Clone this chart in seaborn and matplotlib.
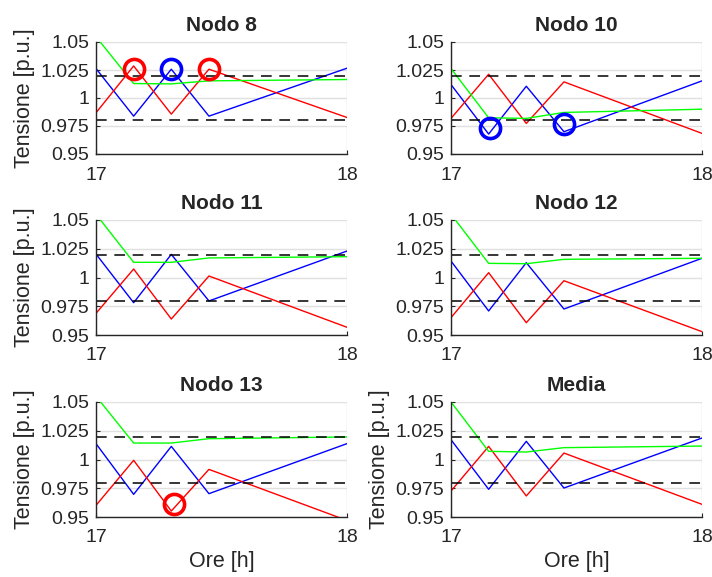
import matplotlib
matplotlib.use("Agg")
import matplotlib.pyplot as plt
import pandas as pd
import seaborn as sns

# hours on the x axis
ore = [17.0, 17.15, 17.30, 17.45, 18.0]

titles = ["Nodo 8", "Nodo 10", "Nodo 11", "Nodo 12", "Nodo 13", "Media"]

blue = [
    [1.0263, 0.9838, 1.0257, 0.9838, 1.0266],
    [1.0120, 0.9678, 1.0105, 0.9699, 1.0153],
    [1.0204, 0.9781, 1.0201, 0.9796, 1.0230],
    [1.0143, 0.9709, 1.0129, 0.9726, 1.0167],
    [1.0138, 0.9697, 1.0114, 0.9703, 1.0138],
    [1.0172, 0.9741, 1.0158, 0.9752, 1.0187],
]
red = [
    [0.9868, 1.0286, 0.9856, 1.0257, 0.9826],
    [0.9818, 1.0212, 0.9773, 1.0144, 0.9684],
    [0.9688, 1.0074, 0.9639, 1.0013, 0.9567],
    [0.9651, 1.0042, 0.9607, 0.9972, 0.9529],
    [0.9601, 0.9993, 0.9552, 0.9914, 0.9470],
    [0.9726, 1.0114, 0.9683, 1.0056, 0.9610],
]
green = [
    [1.0547, 1.0129, 1.0126, 1.0153, 1.0165],
    [1.0263, 0.9823, 0.9818, 0.9871, 0.9900],
    [1.0550, 1.0132, 1.0132, 1.0170, 1.0181],
    [1.0550, 1.0123, 1.0120, 1.0158, 1.0167],
    [1.0550, 1.0143, 1.0143, 1.0181, 1.0196],
    [1.0500, 1.0071, 1.0065, 1.0103, 1.0117],
]

# limits
v_max = 1.02
v_min = 0.98

# highlighted points: (panel, hour, value, colour)
circle_panel = [0, 0, 0, 1, 1, 4]
circle_x = [17.15, 17.30, 17.45, 17.155, 17.45, 17.31]
circle_y = [1.026, 1.026, 1.026, 0.973, 0.977, 0.961]
circle_col = ["red", "blue", "red", "blue", "blue", "red"]

yticks = [0.95, 0.975, 1.0, 1.025, 1.05]
ytick_labels = ["0.95", "0.975", "1", "1.025", "1.05"]

sns.set_theme(style="ticks")
plt.rcParams["font.family"] = ["Liberation Sans", "DejaVu Sans"]
plt.rcParams["xtick.direction"] = "in"
plt.rcParams["ytick.direction"] = "in"

fig = plt.figure(figsize=(7.12, 5.77), dpi=100)
W, H = 712, 577
lefts = [96, 451]
rows = [(42, 154), (220, 335), (402, 517)]

for i, title in enumerate(titles):
    r, c = divmod(i, 2)
    top, bot = rows[r]
    ax = fig.add_axes([lefts[c] / W, 1 - bot / H, 251 / W, (bot - top) / H])
    df = pd.DataFrame({"ore": ore, "blu": blue[i], "rosso": red[i], "verde": green[i]})
    sns.lineplot(data=df, x="ore", y="blu", color="blue", lw=1.0, ax=ax)
    sns.lineplot(data=df, x="ore", y="rosso", color="red", lw=1.0, ax=ax)
    sns.lineplot(data=df, x="ore", y="verde", color="#00ff00", lw=1.0, ax=ax)
    ax.axhline(v_max, color="black", ls=(0, (7, 5)), lw=1.1)
    ax.axhline(v_min, color="black", ls=(0, (7, 5)), lw=1.1)
    for p, cx, cy, cc in zip(circle_panel, circle_x, circle_y, circle_col):
        if p == i:
            ax.plot(cx, cy, "o", mfc="none", mec=cc, ms=14.5, mew=2.6, clip_on=False)
    ax.set_xlim(17, 18)
    ax.set_ylim(0.95, 1.05)
    ax.set_xticks([17, 18])
    ax.set_xticklabels(["17", "18"])
    ax.set_yticks(yticks)
    ax.set_yticklabels(ytick_labels)
    ax.grid(True, color="#e0e0e0", lw=1.0)
    ax.set_axisbelow(True)
    sns.despine(ax=ax)
    ax.tick_params(labelsize=14, colors="#262626", length=3, width=0.8)
    ax.tick_params(axis="x", pad=9)
    ax.tick_params(axis="y", pad=5)
    ax.set_title(title, fontsize=15, fontweight="bold", pad=8)
    ax.set_xlabel("Ore [h]" if r == 2 else "", fontsize=15.5, color="#262626", labelpad=3)
    if c == 0 or i == 5:
        ax.set_ylabel("Tensione [p.u.]", fontsize=15.5, color="#262626", labelpad=4)
    else:
        ax.set_ylabel("")
    for s in ["left", "bottom"]:
        ax.spines[s].set_color("#262626")
        ax.spines[s].set_linewidth(1.0)

fig.savefig("out.png", dpi=100)
